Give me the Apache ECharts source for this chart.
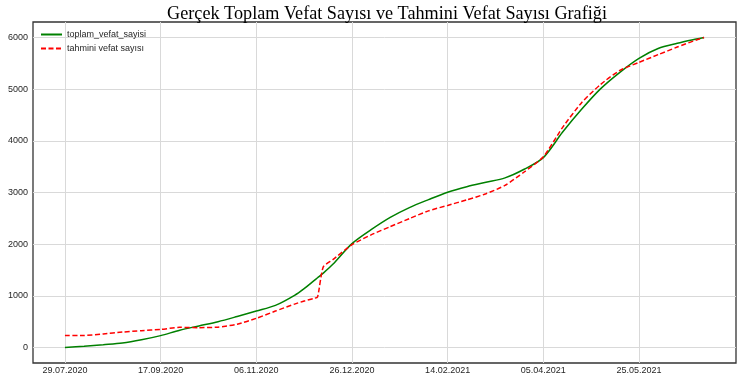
<!DOCTYPE html>
<html>
<head>
<meta charset="utf-8">
<script src="https://cdn.jsdelivr.net/npm/echarts@6/dist/echarts.min.js"></script>
<style>
html,body{margin:0;padding:0;background:#fff;}
#chart{width:751px;height:383px;}
</style>
</head>
<body>
<div id="chart"></div>
<script>
// Day offsets from 29.07.2020
var days = [0,10,20,30,40,50,60,70,80,90,100,110,120,125,130,132,135,140,150,160,170,180,190,200,210,220,230,240,250,260,270,280,290,300,310,320,330,334];
var toplamVefat = [0,25,55,88,150,230,335,418,500,600,705,815,1010,1140,1290,1350,1440,1610,2010,2280,2518,2708,2862,3005,3112,3198,3283,3450,3675,4165,4610,5010,5326,5596,5786,5887,5970,6000];
var tahminiVefat = [230,232,262,298,326,350,390,384,394,450,565,705,840,900,950,978,1560,1700,1990,2180,2340,2495,2645,2750,2858,2975,3138,3397,3690,4256,4739,5094,5363,5519,5668,5815,5953,6000];
var xTickDays = [0,50,100,150,200,250,300];
var xTickLabels = ['29.07.2020','17.09.2020','06.11.2020','26.12.2020','14.02.2021','05.04.2021','25.05.2021'];
var yTicks = [0,1000,2000,3000,4000,5000,6000];
var seriesNames = ['toplam_vefat_sayisi','tahmini vefat sayısı'];
var titleText = 'Gerçek Toplam Vefat Sayısı ve Tahmini Vefat Sayısı Grafiği';

function pairs(xs, ys){ return xs.map(function(x,i){ return [x, ys[i]]; }); }
var labelMap = {};
xTickDays.forEach(function(d,i){ labelMap[d] = xTickLabels[i]; });

var chart = echarts.init(document.getElementById('chart'), null, {renderer:'canvas'});
chart.setOption({
  animation:false,
  backgroundColor:'#ffffff',
  title:{
    text:titleText,
    left:382, top:0, textAlign:'center',
    textStyle:{fontFamily:'Liberation Serif', fontSize:18.2, fontWeight:'normal', color:'#000'}
  },
  legend:{
    left:35, top:25, orient:'vertical', itemWidth:21, itemHeight:8, itemGap:5,
    itemStyle:{opacity:0},
    textStyle:{fontFamily:'Liberation Sans', fontSize:9, color:'#262626'},
    data:seriesNames
  },
  grid:{left:33, top:22, width:703, height:341, show:true, borderColor:'#333', borderWidth:1.3, backgroundColor:'#fff'},
  xAxis:{
    type:'value', min:-16.7, max:350.7,
    axisLine:{show:false},
    axisTick:{show:false, customValues:xTickDays},
    axisLabel:{customValues:xTickDays, formatter:function(v){return labelMap[v]||'';}, fontFamily:'Liberation Sans', fontSize:9, color:'#262626', margin:3},
    splitLine:{show:true, lineStyle:{color:'#d9d9d9', width:1}}
  },
  yAxis:{
    type:'value', min:-300, max:6300,
    axisLine:{show:false},
    axisTick:{show:false, customValues:yTicks},
    axisLabel:{customValues:yTicks, formatter:function(v){return String(v);}, fontFamily:'Liberation Sans', fontSize:9, color:'#262626', margin:5},
    splitLine:{show:true, lineStyle:{color:'#d9d9d9', width:1}}
  },
  series:[
    {name:seriesNames[0], type:'line', data:pairs(days,toplamVefat), symbol:'none', smooth:0.3,
     lineStyle:{color:'#008000', width:1.5}, itemStyle:{color:'#008000'}},
    {name:seriesNames[1], type:'line', data:pairs(days,tahminiVefat), symbol:'none', smooth:0.2,
     lineStyle:{color:'#ff0000', width:1.5, type:[5,2.5]}, itemStyle:{color:'#ff0000'}}
  ]
});
</script>
</body>
</html>
